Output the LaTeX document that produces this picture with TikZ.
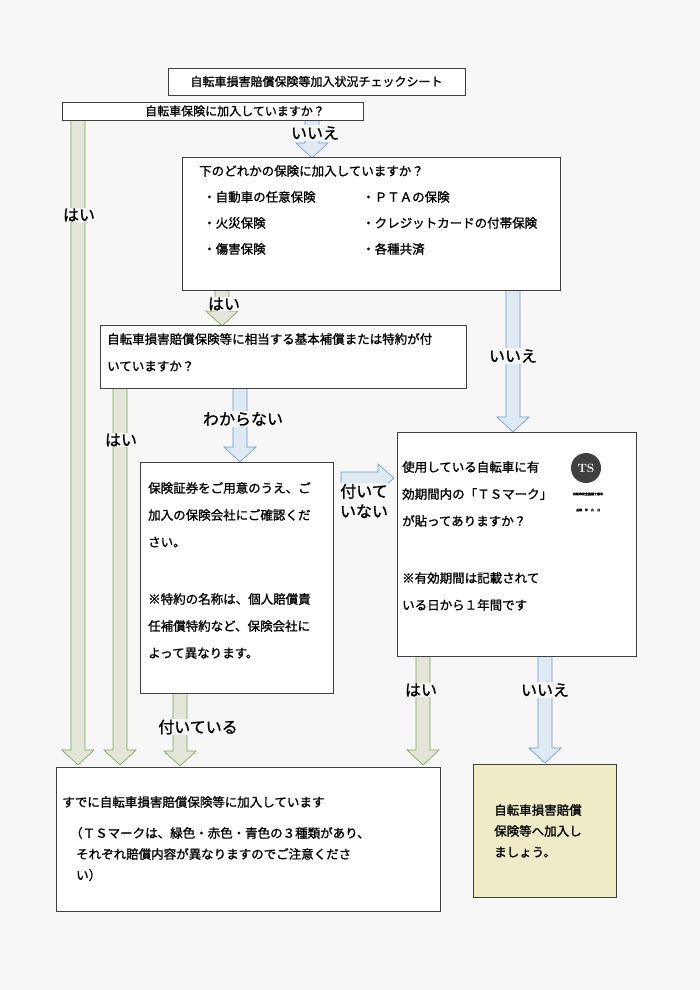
\documentclass[tikz,border=0pt]{standalone}
\usepackage{fontspec}
\newfontfamily\jp[FakeBold=1.2]{Noto Sans CJK JP}
\definecolor{gfill}{RGB}{226,229,216}
\definecolor{gline}{RGB}{120,165,80}
\definecolor{bfill}{RGB}{222,233,242}
\definecolor{bline}{RGB}{110,150,205}
\definecolor{yel}{RGB}{238,235,198}
\newcommand\vblk[4]{% x, ytop, ybottom(tip), style
  \filldraw[#4] (#1-7,#2) -- (#1-7,#3-15) -- (#1-16,#3-15) -- (#1,#3) -- (#1+16,#3-15) -- (#1+7,#3-15) -- (#1+7,#2);}
\begin{document}
\begin{tikzpicture}[x=1pt,y=-1pt,font=\jp\fontsize{12.5}{27}\selectfont,
  box/.style={draw=black!75,line width=0.8pt,fill=white},
  txt/.style={anchor=north west,align=left,inner sep=0pt},
  lbl/.style={font=\jp\fontsize{16}{18}\selectfont,fill=white!97!black,inner sep=1pt},
  garr/.style={fill=gfill,draw=gline,line width=0.6pt},
  barr/.style={fill=bfill,draw=bline,line width=0.6pt}]
\fill[white!97!black] (0,0) rectangle (700,990);
\useasboundingbox (0,0) rectangle (700,990);
% arrows (drawn first)
\vblk{78}{120}{765}{garr}
\vblk{120}{388}{765}{garr}
\vblk{312}{120}{158}{barr}
\vblk{222}{290}{326}{garr}
\vblk{513}{290}{432}{barr}
\vblk{240}{388}{462}{barr}
\vblk{180}{693}{766}{garr}
\vblk{423}{656}{765}{garr}
\vblk{545}{656}{763}{barr}
\filldraw[barr] (341,472) -- (378,472) -- (378,464) -- (394,478) -- (378,492) -- (378,484) -- (341,484) -- cycle;
% boxes
\node[box,minimum width=297,minimum height=27] (title) at (316.5,81.5) {};
\node[font=\jp\fontsize{12}{14}\selectfont] at (title) {自転車損害賠償保険等加入状況チェックシート};
\node[box,minimum width=301,minimum height=18,inner sep=0pt] (q1) at (212.5,111.5) {};
\node[font=\jp\fontsize{12}{14}\selectfont] at (235,111) {自転車保険に加入していますか？};
\node[box,minimum width=378,minimum height=133] (q2) at (371,223.5) {};
\node[txt] (q2t) at (199,165) {下のどれかの保険に加入していますか？\\[-1pt]
\hspace{4pt}・自動車の任意保険\\[-1pt]\hspace{4pt}・火災保険\\[-1pt]\hspace{4pt}・傷害保険};
\node[txt] (q2r) at (362,191) {・ＰＴＡの保険\\[-1pt]・クレジットカードの付帯保険\\[-1pt]・各種共済};
\node[box,minimum width=366,minimum height=63] (q3) at (283,356.5) {};
\node[txt] (q3t) at (107,333) {自転車損害賠償保険等に相当する基本補償または特約が付\\いていますか？};
\node[box,minimum width=193,minimum height=231] (chk) at (236.5,577.5) {};
\node[txt] (chkt) at (148,482) {保険証券をご用意のうえ、ご\\加入の保険会社にご確認くだ\\さい。\\[30pt]※特約の名称は、個人賠償責\\任補償特約など、保険会社に\\よって異なります。};
\node[box,minimum width=239,minimum height=224] (ts) at (516.5,544) {};
\node[txt] (tst) at (402,461) {使用している自転車に有\\効期間内の「ＴＳマーク」\\が貼ってありますか？\\[30pt]※有効期間は記載されて\\いる日から１年間です};
% TS mark
\node[circle,fill=black!75,minimum size=30,inner sep=0pt] (mark) at (586,468) {};
\node[font=\bfseries\fontsize{12}{12}\selectfont,text=white] at (mark) {TS};
\node[font=\jp\fontsize{3}{4}\selectfont,align=center] (markt) at (588,494) {自転車安全整備士番号};
\node[font=\jp\fontsize{3}{4}\selectfont] (markd) at (588,510) {点検\quad 年\quad 月\quad 日};
\node[box,minimum width=384,minimum height=144] (fin) at (248,839) {};
\node[txt,font=\jp\fontsize{12.5}{21}\selectfont] (fint) at (62,796) {すでに自転車損害賠償保険等に加入しています\\[10pt]
\hspace{8pt}（ＴＳマークは、緑色・赤色・青色の３種類があり、\\\hspace{14pt}それぞれ賠償内容が異なりますのでご注意くださ\\\hspace{14pt}い）};
\node[box,fill=yel,minimum width=143,minimum height=133] (yes) at (544.5,830.5) {};
\node[txt,font=\jp\fontsize{12.5}{21}\selectfont] (yest) at (494,804) {自転車損害賠償\\保険等へ加入し\\ましょう。};
% labels
\node[lbl] (l1) at (315,133) {いいえ};
\node[lbl] (l2) at (79,215) {はい};
\node[lbl] (l3) at (224,304) {はい};
\node[lbl] (l4) at (513,356) {いいえ};
\node[lbl] (l5) at (121,440) {はい};
\node[lbl] (l6) at (243,419) {わからない};
\node[lbl,align=center,font=\jp\fontsize{16}{20}\selectfont] (l7) at (364,501) {付いて\\いない};
\node[lbl] (l8) at (198,727) {付いている};
\node[lbl] (l9) at (421,690) {はい};
\node[lbl] (l10) at (545,690) {いいえ};
\end{tikzpicture}
\end{document}
